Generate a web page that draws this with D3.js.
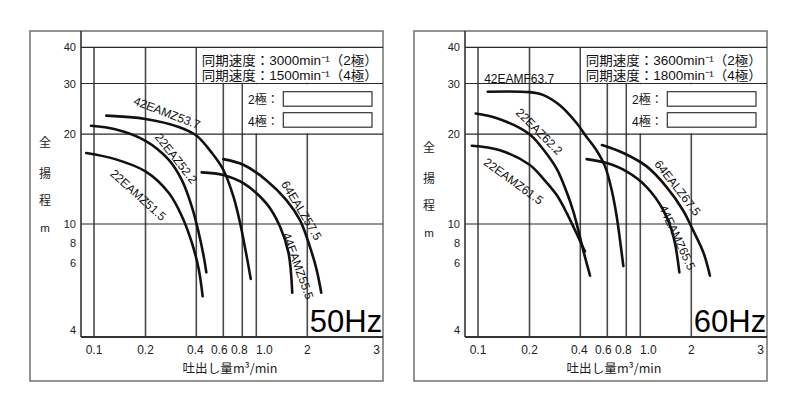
<!DOCTYPE html>
<html>
<head>
<meta charset="utf-8">
<script src="https://cdn.jsdelivr.net/npm/d3@7"></script>
<style>
  html, body { margin: 0; padding: 0; background: #fff; }
  svg { display: block; }
</style>
</head>
<body>
<svg id="chart" width="799" height="413"></svg>
<script>
// ---- axis values ----------------------------------------------------------
const flowTicks = [0.1, 0.2, 0.4, 0.6, 0.8, 1.0, 2, 3];          // discharge, m³/min
const flowTickLabels = ["0.1", "0.2", "0.4", "0.6", "0.8", "1.0", "2", "3"];
const flowGrid = [0.1, 0.2, 0.4, 0.6, 0.8, 1.0, 2];
const headTicks = [4, 6, 8, 10, 20, 30, 40];                    // total head, m
const headGrid = [10, 20, 30, 40];

// ---- legend / titles -------------------------------------------------------
const frequencies = ["50Hz", "60Hz"];
const syncSpeed50 = ["同期速度：3000min⁻¹（2極）", "同期速度：1500min⁻¹（4極）"];
const syncSpeed60 = ["同期速度：3600min⁻¹（2極）", "同期速度：1800min⁻¹（4極）"];
const poleLabels = ["2極：", "4極："];
const yTitle = ["全", "揚", "程", "m"];
const xTitle = "吐出し量m³/min";

// ---- pump curves, 50Hz ----------------------------------------------------
const models50 = ["22EAMZ51.5", "22EAZ52.2", "42EAMZ53.7", "64EALZ57.5", "44EAMZ55.5"];
const flow50 = [
  [0.090, 0.133, 0.200, 0.275, 0.329, 0.377, 0.415, 0.440],
  [0.096, 0.133, 0.200, 0.275, 0.329, 0.377, 0.415, 0.447, 0.465],
  [0.118, 0.200, 0.315, 0.400, 0.506, 0.600, 0.698, 0.773, 0.858, 0.915],
  [0.600, 0.813, 1.15, 1.51, 1.81, 2.03, 2.11, 2.17],
  [0.434, 0.600, 0.813, 1.15, 1.38, 1.55, 1.63]
];
const head50 = [
  [17.3, 16.5, 15.0, 12.7, 10.6, 8.0, 5.8, 5.0],
  [21.4, 20.8, 19.0, 16.4, 14.0, 11.4, 9.0, 6.6, 5.7],
  [23.2, 22.6, 21.2, 19.8, 17.3, 15.2, 12.4, 10.1, 6.6, 5.5],
  [16.5, 15.8, 14.0, 12.0, 10.3, 7.6, 5.8, 5.1],
  [14.9, 14.6, 13.7, 11.7, 9.7, 6.9, 5.1]
];

// ---- pump curves, 60Hz ----------------------------------------------------
const models60 = ["22EAMZ61.5", "22EAZ62.2", "42EAMF63.7", "64EALZ67.5", "44EAMZ65.5"];
const flow60 = [
  [0.092, 0.133, 0.200, 0.241, 0.290, 0.332, 0.372, 0.409, 0.429],
  [0.097, 0.133, 0.200, 0.241, 0.290, 0.332, 0.364, 0.389, 0.418, 0.463],
  [0.114, 0.200, 0.240, 0.300, 0.377, 0.436, 0.512, 0.580, 0.641, 0.692, 0.727, 0.765],
  [0.554, 0.765, 1.09, 1.43, 1.79, 2.02, 2.15, 2.23],
  [0.440, 0.595, 0.802, 1.09, 1.37, 1.57, 1.70]
];
const head60 = [
  [18.3, 17.7, 15.8, 14.2, 12.5, 10.9, 9.3, 7.8, 7.1],
  [23.6, 22.6, 20.0, 17.8, 15.3, 12.8, 11.0, 9.3, 7.2, 5.6],
  [28.1, 28.0, 27.4, 25.3, 22.0, 19.7, 17.6, 15.6, 13.0, 10.6, 8.3, 5.9],
  [18.4, 17.3, 15.6, 13.3, 11.1, 9.3, 6.9, 5.6],
  [16.5, 16.0, 15.0, 13.3, 11.1, 8.6, 5.7]
];

// ---- layout ----------------------------------------------------------------
// where each model name sits beside its curve (data units) and its slant
const labelPlacement50 = [
  { q: 0.181, h: 12.5, a: 42 }, { q: 0.303, h: 16.6, a: 52 }, { q: 0.268, h: 23.7, a: 21 },
  { q: 1.848, h: 11.1, a: 59 }, { q: 1.760, h: 5.9, a: 70 }
];
const labelPlacement60 = [
  { q: 0.161, h: 13.9, a: 36 }, { q: 0.228, h: 20.4, a: 45 }, { q: 0.174, h: 31.0, a: 0 },
  { q: 1.658, h: 13.2, a: 52 }, { q: 1.650, h: 8.53, a: 65 }
];

const LATIN = "'Liberation Sans', Arial, sans-serif";
const CJK = "'Noto Sans CJK JP', 'Noto Sans CJK SC', sans-serif";
const MIXED = "'Liberation Sans', 'Noto Sans CJK JP', sans-serif";

const frame = { left: 30, top: 31, right: 383, bottom: 381 };
const plot = { left: 81, top: 31, right: 383, bottom: 337 };

// The printed catalogue ruling is logarithmic but unevenly drawn, so each
// labelled value is pinned to its own rule (piecewise log scales).
const x = d3.scaleLog().domain(flowTicks)
  .range([94, 145.5, 196.3, 223.3, 242.3, 256.3, 307.3, 376.7]);
const y = d3.scaleLog().domain(headTicks)
  .range([337, 263, 243, 224, 134.2, 83.5, 47.3]);

const xLabelNudge = { 0.4: -1, 0.6: -4, 0.8: -3, 1: 8 };

const svg = d3.select("#chart");
svg.append("rect").attr("width", 799).attr("height", 413).attr("fill", "#fff");

const line = d3.line()
  .x(d => x(d[0]))
  .y(d => y(d[1]))
  .curve(d3.curveCatmullRom.alpha(0.5));

function drawPanel(g, cfg) {
  // outer frame
  g.append("rect")
    .attr("x", frame.left).attr("y", frame.top)
    .attr("width", frame.right - frame.left).attr("height", frame.bottom - frame.top)
    .attr("fill", "#fff").attr("stroke", "#707070").attr("stroke-width", 1.5);

  // vertical rules
  g.append("g").selectAll("line").data(flowGrid).join("line")
    .attr("x1", d => x(d)).attr("x2", d => x(d))
    .attr("y1", y(40)).attr("y2", plot.bottom)
    .attr("stroke", "#4a4a4a").attr("stroke-width", 1.6);

  // opaque legend panels in the upper right
  g.append("rect")
    .attr("x", x(0.4) + 1).attr("y", y(40) + 0.7)
    .attr("width", plot.right - x(0.4) - 2).attr("height", y(30) - y(40) - 1.4)
    .attr("fill", "#fff");
  g.append("rect")
    .attr("x", x(0.8) + 1).attr("y", y(30) + 0.7)
    .attr("width", plot.right - x(0.8) - 2).attr("height", y(20) - y(30) - 1.4)
    .attr("fill", "#fff");

  // horizontal rules
  g.append("g").selectAll("line").data(headGrid).join("line")
    .attr("x1", plot.left).attr("x2", plot.right)
    .attr("y1", d => y(d)).attr("y2", d => y(d))
    .attr("stroke", "#2a2a2a").attr("stroke-width", 1.2);

  // plot border (left + bottom)
  g.append("line").attr("x1", plot.left).attr("x2", plot.left)
    .attr("y1", plot.top).attr("y2", plot.bottom)
    .attr("stroke", "#333").attr("stroke-width", 1.6);
  g.append("line").attr("x1", plot.left).attr("x2", plot.right)
    .attr("y1", plot.bottom).attr("y2", plot.bottom)
    .attr("stroke", "#333").attr("stroke-width", 1.8);

  // head tick labels
  g.append("g").selectAll("text").data(headTicks).join("text")
    .attr("x", 76)
    .attr("y", d => Math.min(y(d), plot.bottom - 7))
    .attr("text-anchor", "end").attr("dominant-baseline", "central")
    .attr("font-family", LATIN).attr("font-size", 11).attr("fill", "#222")
    .text(d => d);

  // discharge tick labels
  g.append("g").selectAll("text").data(flowTicks).join("text")
    .attr("x", d => x(d) + (xLabelNudge[d] || 0))
    .attr("y", 354)
    .attr("text-anchor", "middle")
    .attr("font-family", LATIN).attr("font-size", 12).attr("fill", "#222")
    .text((d, i) => flowTickLabels[i]);

  // axis titles
  g.append("text").attr("x", 230).attr("y", 373)
    .attr("text-anchor", "middle")
    .attr("font-family", CJK).attr("font-size", 12.5).attr("fill", "#222")
    .attr("textLength", 95).attr("lengthAdjust", "spacingAndGlyphs")
    .text(xTitle);
  const titleY = [141, 172, 199, 228];
  g.append("g").selectAll("text").data(yTitle).join("text")
    .attr("x", 45).attr("y", (d, i) => titleY[i] + cfg.titleShift)
    .attr("text-anchor", "middle").attr("dominant-baseline", "central")
    .attr("font-family", (d, i) => i < 3 ? CJK : LATIN)
    .attr("font-size", (d, i) => i < 3 ? 12 : 11.5).attr("fill", "#222")
    .text(d => d);

  // synchronous speed legend
  g.append("g").selectAll("text").data(cfg.sync).join("text")
    .attr("x", x(0.4) + 5.5).attr("y", (d, i) => y(40) + 17.5 + i * 15)
    .attr("font-family", MIXED).attr("font-size", 13).attr("fill", "#111")
    .attr("textLength", 176).attr("lengthAdjust", "spacingAndGlyphs")
    .text(d => d);

  // pole boxes
  const poles = g.append("g").selectAll("g").data(poleLabels).join("g");
  poles.append("text")
    .attr("x", x(0.8) + 5.7).attr("y", (d, i) => y(30) + 20.5 + i * 21.5)
    .attr("font-family", MIXED).attr("font-size", 12).attr("fill", "#111")
    .text(d => d);
  poles.append("rect")
    .attr("x", x(0.8) + 41).attr("y", (d, i) => y(30) + 8.2 + i * 21)
    .attr("width", plot.right - 11 - (x(0.8) + 41)).attr("height", 14.5)
    .attr("fill", "#fff").attr("stroke", "#333").attr("stroke-width", 1.2);

  // performance curves
  g.append("g").selectAll("path").data(cfg.models).join("path")
    .attr("d", (m, i) => line(d3.zip(cfg.flow[i], cfg.head[i])))
    .attr("fill", "none").attr("stroke", "#111")
    .attr("stroke-width", 2.6).attr("stroke-linecap", "round");

  // model names
  g.append("g").selectAll("text").data(cfg.models).join("text")
    .attr("transform", (m, i) => {
      const p = cfg.labels[i];
      return `translate(${x(p.q)},${y(p.h)}) rotate(${p.a})`;
    })
    .attr("text-anchor", "middle").attr("dominant-baseline", "central")
    .attr("font-family", LATIN).attr("font-size", 12).attr("fill", "#111")
    .text(m => m);

  // frequency badge
  g.append("text")
    .attr("x", x(2) + 2.5).attr("y", plot.bottom - 5)
    .attr("font-family", LATIN).attr("font-size", 31).attr("fill", "#000")
    .text(cfg.freq);
}

drawPanel(svg.append("g"), {
  freq: frequencies[0], sync: syncSpeed50, models: models50,
  flow: flow50, head: head50, labels: labelPlacement50, titleShift: 0
});
drawPanel(svg.append("g").attr("transform", "translate(384,0)"), {
  freq: frequencies[1], sync: syncSpeed60, models: models60,
  flow: flow60, head: head60, labels: labelPlacement60, titleShift: 5
});
</script>
</body>
</html>
